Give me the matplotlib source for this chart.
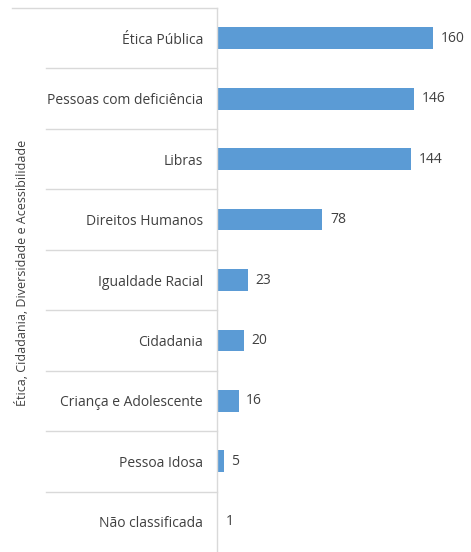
import matplotlib
matplotlib.use("Agg")
import matplotlib.pyplot as plt
from matplotlib.transforms import blended_transform_factory

categories = ["Ética Pública", "Pessoas com deficiência", "Libras", "Direitos Humanos",
              "Igualdade Racial", "Cidadania", "Criança e Adolescente", "Pessoa Idosa",
              "Não classificada"]
values = [160, 146, 144, 78, 23, 20, 16, 5, 1]
group_label = "Ética, Cidadania, Diversidade e Acessibilidade"

plt.rcParams['font.family'] = ['Open Sans', 'DejaVu Sans']
W, H = 471, 552
fig = plt.figure(figsize=(W/100, H/100), dpi=100)
ax = fig.add_axes([217/W, 0, 243/W, 1 - 8/H])

n = len(categories)
ypos = list(range(n))
bar_color = "#5B9BD5"
text_color = "#404040"
line_color = "#D9D9D9"

ax.barh(ypos, values, height=0.36, color=bar_color)
ax.set_ylim(n - 0.5, -0.5)
ax.set_xlim(0, 180)
for y, v in zip(ypos, values):
    ax.annotate(str(v), (v, y), xytext=(5.5, 0), textcoords="offset points",
                va="center", ha="left", fontsize=10, color=text_color)

ax.set_yticks(ypos)
ax.set_yticklabels(categories, fontsize=10, color=text_color)
ax.tick_params(axis="y", length=0, pad=10)
ax.set_xticks([])
for s in ["top", "right", "bottom"]:
    ax.spines[s].set_visible(False)
ax.spines["left"].set_color(line_color)
ax.spines["left"].set_linewidth(1.0)

tr = blended_transform_factory(fig.transFigure, ax.transData)
ax.plot([12/W, 217/W], [-0.5, -0.5], transform=tr, color=line_color, lw=1.0, clip_on=False)
for k in range(1, n):
    ax.plot([46/W, 217/W], [k - 0.5, k - 0.5], transform=tr, color=line_color, lw=1.0, clip_on=False)

fig.text(22/W, 1 - 273/H, group_label, rotation=90, ha="center", va="center",
         fontsize=9, color=text_color)

fig.savefig("out.png", dpi=100)
